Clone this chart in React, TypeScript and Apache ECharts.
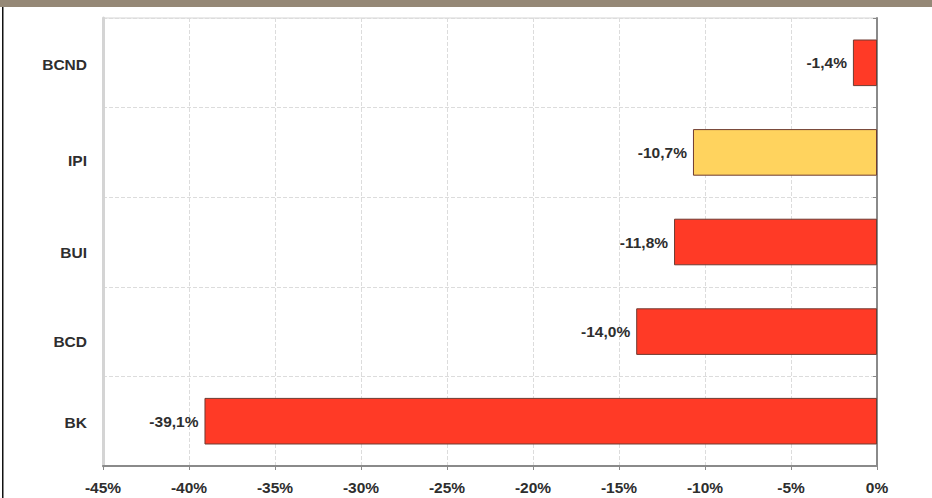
import React, { useEffect, useRef } from "react";
import * as echarts from "echarts";

const categories = ["BK", "BCD", "BUI", "IPI", "BCND"];
const values = [-39.1, -14.0, -11.8, -10.7, -1.4];
const barColors = ["#FF3A26", "#FF3A26", "#FF3A26", "#FFD35E", "#FF3A26"];
const xTicks = { min: -45, max: 0, interval: 5 };

export default function App() {
  const ref = useRef<HTMLDivElement>(null);
  useEffect(() => {
    if (!ref.current) return;
    const chart = echarts.init(ref.current, null, { renderer: "svg" });
    const labelFont = {
      fontFamily: "Liberation Sans, Arial, sans-serif",
      fontWeight: "bold" as const,
      fontSize: 15.5,
      color: "#2e2e2e",
    };
    // vertical nudges of the category labels, as seen in the reference
    const nudge: Record<string, number> = { BK: 1, BCD: 10, BUI: 10, IPI: 8, BCND: 2 };
    const rich: Record<string, any> = {};
    categories.forEach((c, i) => {
      rich["c" + i] = { ...labelFont, padding: [2 * nudge[c], 0, 0, 0] };
    });
    chart.setOption({
      animation: false,
      backgroundColor: "#ffffff",
      grid: {
        left: 103,
        right: 55,
        top: 18,
        bottom: 32,
        show: true,
        borderColor: "#d4d4d4",
        borderWidth: 1,
      },
      xAxis: {
        type: "value",
        min: xTicks.min,
        max: xTicks.max,
        interval: xTicks.interval,
        axisLine: { show: true, lineStyle: { color: "#8a8a8a", width: 2 } },
        axisTick: { show: true, length: 4, lineStyle: { color: "#8a8a8a" } },
        axisLabel: {
          ...labelFont,
          margin: 13,
          formatter: (v: number) => `${v}%`,
        },
        splitLine: {
          show: true,
          lineStyle: { color: "#dcdcdc", type: "dashed", width: 1 },
        },
      },
      yAxis: [
        {
          type: "category",
          data: categories,
          position: "left",
          axisLine: { show: true, onZero: false, lineStyle: { color: "#d4d4d4", width: 3 } },
          axisTick: { show: false },
          axisLabel: {
            ...labelFont,
            margin: 16,
            formatter: (v: string) => `{c${categories.indexOf(v)}|${v}}`,
            rich,
          },
          splitLine: {
            show: true,
            lineStyle: { color: "#dcdcdc", type: "dashed", width: 1 },
          },
        },
        {
          type: "category",
          data: categories,
          position: "right",
          axisLine: { show: true, onZero: false, lineStyle: { color: "#8a8a8a", width: 2 } },
          axisTick: { show: true, inside: true, length: 4, lineStyle: { color: "#8a8a8a" } },
          axisLabel: { show: false },
          splitLine: { show: false },
        },
      ],
      series: [
        {
          type: "bar",
          yAxisIndex: 0,
          barWidth: "52%",
          data: values.map((v, i) => ({
            value: v,
            itemStyle: {
              color: barColors[i],
              borderColor: "#6e3b32",
              borderWidth: 1,
            },
          })),
          label: {
            show: true,
            position: "left",
            distance: 6,
            ...labelFont,
            formatter: (p: any) => `${p.value.toFixed(1).replace(".", ",")}%`,
          },
        },
      ],
      graphic: [
        {
          type: "rect",
          shape: { x: 0, y: 0, width: 932, height: 7 },
          style: { fill: "#958876" },
          silent: true,
        },
        {
          type: "rect",
          shape: { x: 2, y: 7, width: 1.5, height: 491 },
          style: { fill: "#111111" },
          silent: true,
        },
      ],
    });
    return () => chart.dispose();
  }, []);
  return (
    <div
      ref={ref}
      style={{ position: "fixed", left: 0, top: 0, width: 932, height: 498 }}
    />
  );
}
